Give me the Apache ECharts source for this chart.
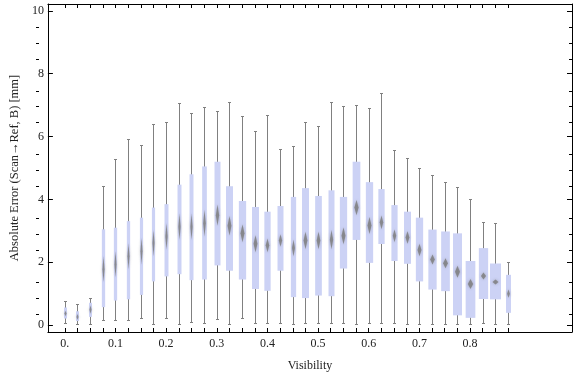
<!DOCTYPE html>
<html>
<head>
<meta charset="utf-8">
<script src="https://cdn.jsdelivr.net/npm/echarts@6/dist/echarts.min.js"></script>
<style>
html, body { margin: 0; padding: 0; background: #fff; }
#chart { width: 576px; height: 377px; }
</style>
</head>
<body>
<div id="chart"></div>
<script>
// box positions on the Visibility axis
const visibility = [0, 0.025, 0.05, 0.075, 0.1, 0.125, 0.15, 0.175, 0.2, 0.225, 0.25, 0.275,
    0.3, 0.325, 0.35, 0.375, 0.4, 0.425, 0.45, 0.475, 0.5, 0.525, 0.55, 0.575,
    0.6, 0.625, 0.65, 0.675, 0.7, 0.725, 0.75, 0.775, 0.8, 0.825, 0.85, 0.875]
const whiskerLow = [0.02, 0.00, 0.00, 0.13, 0.13, 0.13, 0.19, 0.00, 0.19, 0.00, 0.08, 0.05,
    0.16, 0.00, 0.19, 0.03, 0.03, 0.05, 0.00, 0.03, 0.05, 0.03, 0.03, 0.00,
    0.03, 0.03, 0.03, 0.00, 0.00, 0.00, 0.00, 0.00, 0.00, 0.04, 0.00, 0.00]
const quartile1 = [0.21, 0.13, 0.26, 0.57, 0.78, 0.82, 0.96, 1.39, 1.55, 1.62, 1.43, 1.45,
    1.90, 1.73, 1.45, 1.15, 1.09, 1.73, 0.89, 0.86, 0.94, 0.92, 1.80, 2.71,
    1.98, 2.58, 2.04, 1.95, 1.39, 1.13, 1.08, 0.31, 0.23, 0.83, 0.82, 0.39]
const median = [0.37, 0.26, 0.49, 1.78, 1.93, 2.19, 2.35, 2.61, 2.82, 3.13, 3.13, 3.24,
    3.50, 3.16, 2.92, 2.59, 2.54, 2.69, 2.45, 2.69, 2.69, 2.72, 2.84, 3.74,
    3.17, 3.27, 2.84, 2.79, 2.39, 2.09, 1.97, 1.70, 1.31, 1.56, 1.37, 1.00]
const quartile3 = [0.56, 0.44, 0.71, 3.05, 3.10, 3.31, 3.42, 3.74, 3.85, 4.47, 4.80, 5.05,
    5.20, 4.42, 3.95, 3.76, 3.61, 3.79, 4.08, 4.36, 4.11, 4.29, 4.08, 5.20,
    4.55, 4.33, 3.82, 3.61, 3.42, 3.04, 2.98, 2.92, 2.04, 2.45, 1.96, 1.60]
const whiskerHigh = [0.78, 0.68, 0.87, 4.42, 5.29, 5.92, 5.72, 6.39, 6.45, 7.07, 6.76, 6.95,
    6.82, 7.11, 6.67, 6.17, 6.70, 5.62, 5.69, 6.48, 6.35, 7.11, 6.98, 7.00,
    6.92, 7.38, 5.56, 5.31, 5.01, 4.79, 4.57, 4.41, 4.00, 3.27, 3.26, 2.00]
// half height of the median notch (diamond)
const notchHalf = [0.09, 0.09, 0.13, 0.41, 0.41, 0.41, 0.42, 0.42, 0.42, 0.42, 0.42, 0.42,
    0.34, 0.31, 0.28, 0.27, 0.22, 0.20, 0.27, 0.28, 0.28, 0.31, 0.27, 0.24,
    0.27, 0.22, 0.20, 0.20, 0.20, 0.16, 0.16, 0.19, 0.16, 0.11, 0.08, 0.13]

const xLabelValues = [0, 0.1, 0.2, 0.3, 0.4, 0.5, 0.6, 0.7, 0.8]
const yMajorValues = [0, 2, 4, 6, 8, 10]
const yMinorValues = [0.5, 1, 1.5, 2.5, 3, 3.5, 4.5, 5, 5.5, 6.5, 7, 7.5, 8.5, 9, 9.5]

// drawing only: box widths in px
const boxPx = [3, 3, 3, 3.3, 3.3, 3.3, 3.2, 3.2, 4, 4, 4, 4.7,
    6, 7, 7.3, 7, 6.3, 6, 5.3, 7, 6.7, 6, 7.3, 7.7,
    7.3, 6.3, 6.2, 7, 7.3, 8.3, 8.7, 9, 9.7, 9.3, 11, 5]

const rows = visibility.map((v, i) =>
    [v, whiskerLow[i], quartile1[i], median[i], quartile3[i], whiskerHigh[i], notchHalf[i]])

const font = 'Liberation Serif'
const textColor = '#222'

function renderBox(params, api) {
    const i = params.dataIndex
    const x = api.value(0)
    const hi = api.coord([x, api.value(5)])
    const q3 = api.coord([x, api.value(4)])
    const med = api.coord([x, api.value(3)])
    const q1 = api.coord([x, api.value(2)])
    const lo = api.coord([x, api.value(1)])
    const nTop = api.coord([x, api.value(3) + api.value(6)])
    const nBot = api.coord([x, api.value(3) - api.value(6)])
    const cx = Math.round(hi[0]) + 0.5
    const w = boxPx[i]
    const dw = Math.max(2, w * 0.55)
    const yHi = Math.round(hi[1]) + 0.5
    const yLo = Math.round(lo[1]) - 0.5
    const whisker = { stroke: '#808080', lineWidth: 1 }
    return {
        type: 'group',
        children: [
            { type: 'line', shape: { x1: cx, y1: yHi, x2: cx, y2: yLo }, style: whisker },
            { type: 'line', shape: { x1: cx - 1.5, y1: yHi, x2: cx + 1.5, y2: yHi }, style: whisker },
            { type: 'line', shape: { x1: cx - 1.5, y1: yLo, x2: cx + 1.5, y2: yLo }, style: whisker },
            {
                type: 'rect',
                shape: { x: cx - w / 2, y: q3[1], width: w, height: q1[1] - q3[1] },
                style: { fill: '#ccd2f5' }
            },
            {
                type: 'polygon',
                shape: { points: [[cx, nTop[1]], [cx + dw / 2, med[1]], [cx, nBot[1]], [cx - dw / 2, med[1]]] },
                style: { fill: '#7c7c7c', opacity: 0.8, shadowBlur: 3, shadowColor: 'rgba(120,120,120,0.6)' }
            }
        ]
    }
}

const gridBox = { left: 36, right: 4, top: 4, bottom: 40 }
const xRange = { min: -0.0334, max: 1.0013 }
const yRange = { min: -0.22, max: 10.22 }
const frameLine = { show: true, onZero: false, lineStyle: { color: '#000', width: 1 } }
const noLine = { show: false, onZero: false }
const tickLine = { color: '#000', width: 1 }

const chart = echarts.init(document.getElementById('chart'))
chart.setOption({
    animation: false,
    // grid 0: data, frame, labels, major ticks. grid 1 (same place): minor y ticks
    grid: [gridBox, gridBox],
    xAxis: [
        {
            type: 'value', gridIndex: 0, position: 'bottom', ...xRange,
            name: 'Visibility', nameLocation: 'middle', nameGap: 28,
            nameTextStyle: { fontFamily: font, fontSize: 12, color: textColor },
            axisLine: frameLine,
            axisTick: { show: true, inside: true, length: 4, customValues: visibility, lineStyle: tickLine },
            axisLabel: {
                show: true, customValues: xLabelValues, margin: 6,
                fontFamily: font, fontSize: 12, color: textColor,
                formatter: v => (v === 0 ? '0.' : v.toFixed(1))
            },
            splitLine: { show: false }
        },
        {
            type: 'value', gridIndex: 0, position: 'top', ...xRange,
            axisLine: frameLine,
            axisTick: { show: true, inside: true, length: 4, customValues: visibility, lineStyle: tickLine },
            axisLabel: { show: false },
            splitLine: { show: false }
        },
        {
            type: 'value', gridIndex: 1, position: 'bottom', ...xRange, show: false
        }
    ],
    yAxis: [
        {
            type: 'value', gridIndex: 0, position: 'left', ...yRange,
            name: 'Absolute Error (Scan→Ref, B) [mm]', nameLocation: 'middle', nameGap: 20,
            nameTextStyle: { fontFamily: font, fontSize: 12.5, color: textColor },
            axisLine: frameLine,
            axisTick: { show: true, inside: true, length: 5, customValues: yMajorValues, lineStyle: tickLine },
            axisLabel: {
                show: true, customValues: yMajorValues, margin: 4,
                fontFamily: font, fontSize: 12, color: textColor
            },
            splitLine: { show: false }
        },
        {
            type: 'value', gridIndex: 0, position: 'right', ...yRange,
            axisLine: frameLine,
            axisTick: { show: true, inside: true, length: 5, customValues: yMajorValues, lineStyle: tickLine },
            axisLabel: { show: false },
            splitLine: { show: false }
        },
        {
            type: 'value', gridIndex: 1, position: 'left', ...yRange,
            axisLine: noLine,
            axisTick: { show: true, inside: true, length: 3, customValues: yMinorValues, lineStyle: tickLine },
            axisLabel: { show: false },
            splitLine: { show: false }
        },
        {
            type: 'value', gridIndex: 1, position: 'right', ...yRange,
            axisLine: noLine,
            axisTick: { show: true, inside: true, length: 3, customValues: yMinorValues, lineStyle: tickLine },
            axisLabel: { show: false },
            splitLine: { show: false }
        }
    ],
    series: [
        {
            type: 'custom',
            xAxisIndex: 0,
            yAxisIndex: 0,
            renderItem: renderBox,
            encode: { x: 0, y: [1, 2, 3, 4, 5] },
            data: rows
        }
    ]
})
</script>
</body>
</html>
